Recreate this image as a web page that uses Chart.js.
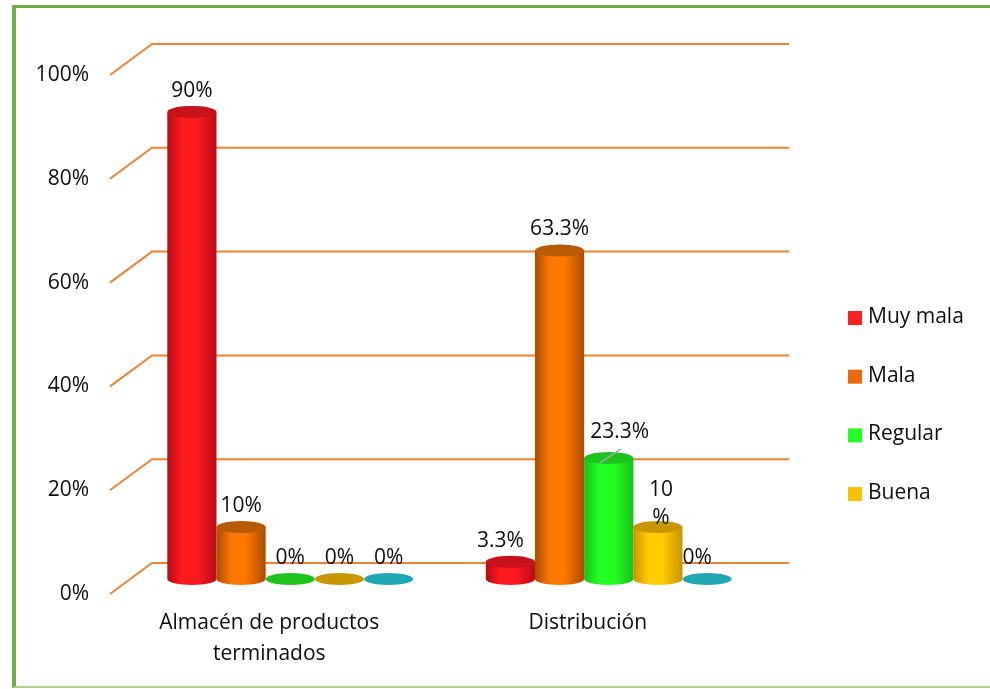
<!DOCTYPE html>
<html>
<head>
<meta charset="utf-8">
<title>Evaluación de procesos</title>
<script src="https://cdn.jsdelivr.net/npm/chart.js@4.4.0/dist/chart.umd.min.js"></script>
<style>
  html, body { margin: 0; padding: 0; background: #fff; }
  body { width: 990px; height: 689px; position: relative; overflow: hidden; }
  #marco {
    position: absolute; left: 12px; top: 5px; width: 1000px; height: 678px;
    border-top: 3px solid #70AD47; border-left: 4px solid #70AD47; border-bottom: 2px solid #A9D18E;
  }
  #grafico { position: absolute; left: 0; top: 0; }
</style>
</head>
<body>
<div id="marco"></div>
<canvas id="grafico" width="990" height="689"></canvas>
<script>
// datos (porcentajes)
const categorias = [['Almacén de productos', 'terminados'], 'Distribución'];
const muyMala = [90, 3.3];
const mala = [10, 63.3];
const regular = [0, 23.3];
const buena = [0, 10];
const muyBuena = [0, 0];
const series = ['Muy mala', 'Mala', 'Regular', 'Buena', 'Muy buena'];

// colores de cada cilindro: leyenda, luz central, sombra lateral, tapa
const tonos = [
  { leyenda: '#FF2020', luz: '#FF1A22', sombra: '#B80A12', tapa: '#C8121A' },
  { leyenda: '#EC6A0C', luz: '#FF7800', sombra: '#A84C00', tapa: '#B85A00' },
  { leyenda: '#22FF22', luz: '#22FF22', sombra: '#18C018', tapa: '#1EC41E' },
  { leyenda: '#FFC000', luz: '#FFCC00', sombra: '#C89400', tapa: '#C89600' },
  { leyenda: '#20A8B4', luz: '#22B8C4', sombra: '#158890', tapa: '#20A8B4' }
];

const TXT = '#0d0d0d';
Chart.defaults.font.family = '"Open Sans", sans-serif';
Chart.defaults.font.size = 21;
Chart.defaults.color = TXT;

// profundidad del efecto 3D (pared del fondo y plano frontal)
const fondo = { dx: 21, dy: 16 };
const RY = 6;

const fmt = v => v + '%';

// retoques de algunas etiquetas
const ajustes = {
  '0-1': { dx: -10 },
  '4-1': { dx: -10 },
  '2-1': { dx: 11, dy: -5, guia: true },
  '3-1': { partir: true }
};

const paredes = {
  id: 'paredes',
  beforeDatasetsDraw(chart) {
    const { ctx, chartArea } = chart;
    const y = chart.scales.y;
    ctx.save();
    ctx.strokeStyle = '#EE8433';
    ctx.lineWidth = 2;
    y.ticks.forEach(t => {
      const py = y.getPixelForValue(t.value);
      ctx.beginPath();
      ctx.moveTo(chartArea.left - fondo.dx, py + fondo.dy - 1);
      ctx.lineTo(chartArea.left + fondo.dx, py - fondo.dy);
      ctx.lineTo(chartArea.right + fondo.dx, py - fondo.dy);
      ctx.stroke();
    });
    ctx.restore();
  }
};

const cilindros = {
  id: 'cilindros',
  beforeDatasetDraw() {
    return false;
  },
  afterDatasetsDraw(chart) {
    const ctx = chart.ctx;
    ctx.save();
    chart.data.datasets.forEach((ds, i) => {
      const tono = tonos[i];
      chart.getDatasetMeta(i).data.forEach(bar => {
        const { x, y, base, width } = bar.getProps(['x', 'y', 'base', 'width'], true);
        const rx = width / 2;
        if (base - y > 0.5) {
          const g = ctx.createLinearGradient(x - rx, 0, x + rx, 0);
          g.addColorStop(0, tono.sombra);
          g.addColorStop(0.3, tono.luz);
          g.addColorStop(0.6, tono.luz);
          g.addColorStop(1, tono.sombra);
          ctx.fillStyle = g;
          ctx.beginPath();
          ctx.moveTo(x - rx, y);
          ctx.lineTo(x - rx, base);
          ctx.ellipse(x, base, rx, RY, 0, Math.PI, 0, true);
          ctx.lineTo(x + rx, y);
          ctx.closePath();
          ctx.fill();
        }
        ctx.fillStyle = tono.tapa;
        ctx.beginPath();
        ctx.ellipse(x, y, rx, RY, 0, 0, Math.PI * 2);
        ctx.fill();
      });
    });

    // etiquetas de valor
    ctx.font = '21px "Open Sans"';
    ctx.textAlign = 'center';
    ctx.textBaseline = 'middle';
    chart.data.datasets.forEach((ds, i) => {
      chart.getDatasetMeta(i).data.forEach((bar, j) => {
        const aj = ajustes[i + '-' + j] || {};
        const lx = bar.x + (aj.dx || 0);
        const ly = bar.y - RY - 15 + (aj.dy || 0);
        const txt = fmt(ds.data[j]);
        ctx.fillStyle = TXT;
        if (aj.partir) {
          ctx.fillText(txt.slice(0, -1), lx + 3, ly - 16);
          ctx.fillText('%', lx + 3, ly + 12);
        } else {
          ctx.fillText(txt, lx, ly);
        }
        if (aj.guia) {
          ctx.strokeStyle = '#A6A6A6';
          ctx.lineWidth = 1.5;
          ctx.beginPath();
          ctx.moveTo(bar.x - 9, bar.y + 5);
          ctx.lineTo(bar.x + 12, bar.y - 9);
          ctx.stroke();
        }
      });
    });
    ctx.restore();
  }
};

const leyenda = {
  id: 'leyenda',
  afterDraw(chart) {
    const ctx = chart.ctx;
    const x0 = chart.chartArea.right + 80;
    ctx.save();
    ctx.font = '21px "Open Sans"';
    ctx.textAlign = 'left';
    ctx.textBaseline = 'middle';
    series.slice(0, 4).forEach((nombre, i) => {
      const yc = 318 + i * 58.7;
      ctx.fillStyle = tonos[i].leyenda;
      ctx.fillRect(x0, yc - 7, 14, 14);
      ctx.fillStyle = TXT;
      ctx.fillText(nombre, x0 + 20, yc - 1);
    });
    ctx.restore();
  }
};

new Chart(document.getElementById('grafico'), {
  type: 'bar',
  data: {
    labels: categorias,
    datasets: [muyMala, mala, regular, buena, muyBuena].map((d, i) => ({
      label: series[i],
      data: d,
      backgroundColor: tonos[i].leyenda
    }))
  },
  options: {
    responsive: false,
    animation: false,
    layout: { padding: { top: 60, right: 222, left: 0, bottom: 0 } },
    datasets: { bar: { barPercentage: 1, categoryPercentage: 0.772 } },
    plugins: {
      legend: { display: false },
      tooltip: { enabled: false }
    },
    scales: {
      y: {
        min: 0,
        max: 100,
        ticks: { stepSize: 20, padding: 42, labelOffset: 15, callback: v => v + '%' },
        grid: { display: false, drawTicks: false },
        border: { display: false },
        afterFit: s => { s.width = 131; }
      },
      x: {
        ticks: { padding: 29, labelOffset: -21, maxRotation: 0, font: { lineHeight: 1.45 } },
        grid: { display: false, drawTicks: false },
        border: { display: false },
        afterFit: s => { s.height = 110; }
      }
    }
  },
  plugins: [paredes, cilindros, leyenda]
});
</script>
</body>
</html>
